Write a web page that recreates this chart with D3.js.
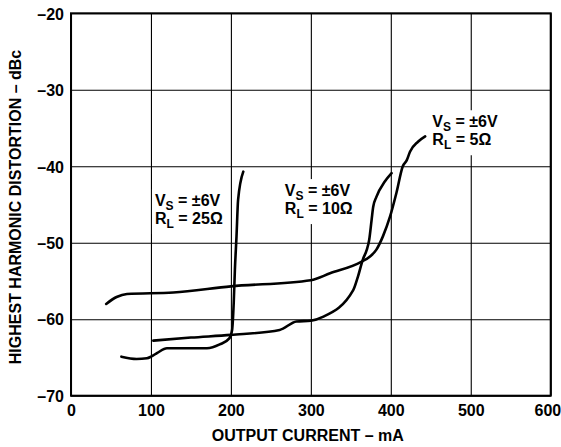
<!DOCTYPE html>
<html>
<head>
<meta charset="utf-8">
<script src="https://cdn.jsdelivr.net/npm/d3@7"></script>
<style>
  body { margin: 0; background: #fff; }
  text { font-family: "Liberation Sans", Arial, sans-serif; font-weight: bold; fill: #000; }
</style>
</head>
<body>
<div id="chart"></div>
<script>
// axis ticks
var xTicks = [0, 100, 200, 300, 400, 500, 600];
var yTicks = [-20, -30, -40, -50, -60, -70];

// curves: [output current mA, distortion dBc]
var rl25 = [[63, -64.9], [82, -65.2], [95, -65.1], [100, -64.9], [108, -64.4], [120, -63.8], [170, -63.8],
    [186, -63.3], [198, -62.5], [201.5, -61.4], [203.5, -57.9], [205, -53.5], [207, -49.2], [209, -44.4], [215.5, -40.7]];
var rl10 = [[103, -62.8], [150, -62.4], [200, -62.05], [261, -61.4], [282, -60.3], [300, -60.2], [315, -59.7],
    [353, -56.2], [359, -54.4], [365, -52.2], [370, -50.9], [373, -49.6], [376, -47.0], [378, -45.3], [382, -44.0],
    [392.5, -42.0], [401, -40.9]];
var rl5 = [[44, -58.0], [57, -57.1], [70, -56.7], [128, -56.5], [200, -55.7], [300, -54.9], [324, -54.0],
    [363, -52.5], [374, -51.8], [382, -50.9], [390, -49.2], [399, -46.6], [407, -43.5], [415, -40.0], [420, -39.2],
    [424, -38.1], [434, -36.8], [443, -36.1]];

// curve labels: [x mA, y dBc of first baseline, R value]
var labels = [
    {x: 105, y: -45.2, rl: "25"},
    {x: 267.5, y: -43.9, rl: "10"},
    {x: 452, y: -34.9, rl: "5"}
];

var svgWidth = 561, svgHeight = 447;
var margin = {top: 13.3, right: 10.3, bottom: 51.3, left: 71};
var width = svgWidth - margin.left - margin.right,
    height = svgHeight - margin.top - margin.bottom;

var svg = d3.select("#chart").append("svg")
    .attr("width", svgWidth)
    .attr("height", svgHeight);

var x = d3.scaleLinear().domain([0, 600]).range([0, width]);
var y = d3.scaleLinear().domain([-70, -20]).range([height, 0]);

var g = svg.append("g")
    .attr("transform", "translate(" + margin.left + "," + margin.top + ")");

var dash = function(d) { return d < 0 ? "\u2013" + Math.abs(d) : d; };

// grid + tick labels
var xAxis = g.append("g")
    .attr("transform", "translate(0," + height + ")")
    .call(d3.axisBottom(x).tickValues(xTicks).tickSize(-height).tickPadding(9).tickFormat(dash));
var yAxis = g.append("g")
    .call(d3.axisLeft(y).tickValues(yTicks).tickSize(-width).tickPadding(7).tickFormat(dash));

[xAxis, yAxis].forEach(function(a) {
    a.select(".domain").remove();
    a.selectAll("line").attr("stroke", "#000").attr("stroke-width", 1.1);
    a.selectAll("text").attr("font-size", 16).attr("font-family", "Liberation Sans, Arial, sans-serif")
        .attr("font-weight", "bold").attr("fill", "#000");
});
xAxis.selectAll("text").attr("dy", "0.71em");
yAxis.selectAll("text").attr("dy", "0.36em");
// last label sits at the window edge, keep it inside
xAxis.selectAll(".tick").filter(function(d) { return d === 600; }).select("text")
    .attr("text-anchor", "end").attr("x", 10);

// frame
g.append("rect")
    .attr("width", width).attr("height", height)
    .attr("fill", "none").attr("stroke", "#000").attr("stroke-width", 2);

// curves
var line = d3.line()
    .x(function(d) { return x(d[0]); })
    .y(function(d) { return y(d[1]); })
    .curve(d3.curveMonotoneX);

[rl25, rl10, rl5].forEach(function(data) {
    g.append("path")
        .datum(data)
        .attr("d", line)
        .attr("fill", "none")
        .attr("stroke", "#000")
        .attr("stroke-width", 2.6)
        .attr("stroke-linejoin", "round")
        .attr("stroke-linecap", "round");
});

// curve labels with white background
labels.forEach(function(l) {
    var lg = g.append("g").attr("transform", "translate(" + x(l.x) + "," + y(l.y) + ")");
    var bg = lg.append("rect").attr("fill", "#fff");
    var t1 = lg.append("text").attr("font-size", 16);
    t1.append("tspan").text("V");
    t1.append("tspan").attr("font-size", 12).attr("dy", 4).text("S");
    t1.append("tspan").attr("dy", -4).text(" = \u00b16V");
    var t2 = lg.append("text").attr("font-size", 16).attr("y", 18);
    t2.append("tspan").text("R");
    t2.append("tspan").attr("font-size", 12).attr("dy", 4).text("L");
    t2.append("tspan").attr("dy", -4).text(" = " + l.rl + "\u03a9");
    var bb = lg.node().getBBox();
    bg.attr("x", bb.x - 3).attr("y", bb.y - 3).attr("width", bb.width + 6).attr("height", bb.height + 6);
});

// axis titles
svg.append("text")
    .attr("x", margin.left + width / 2 - 3)
    .attr("y", 441)
    .attr("text-anchor", "middle")
    .attr("font-size", 16)
    .text("OUTPUT CURRENT \u2013 mA");

svg.append("text")
    .attr("transform", "translate(21," + 207 + ") rotate(-90)")
    .attr("text-anchor", "middle")
    .attr("font-size", 16)
    .text("HIGHEST HARMONIC DISTORTION \u2013 dBc");
</script>
</body>
</html>
